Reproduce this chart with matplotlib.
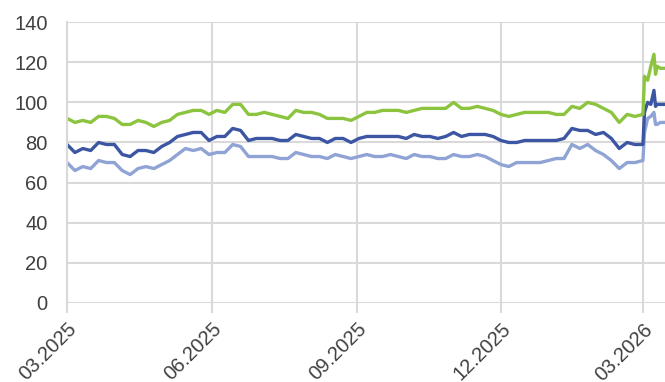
import pandas as pd
import numpy as np
import matplotlib
matplotlib.use("Agg")
import matplotlib.pyplot as plt

# 5-day sampling Mar 2025 - Mar 2026, then the March 2026 spike
dates = list(pd.date_range("2025-03-01", "2026-03-01", freq="5D")) + \
    list(pd.to_datetime(["2026-03-02", "2026-03-04", "2026-03-06", "2026-03-08",
                         "2026-03-09", "2026-03-10", "2026-03-12", "2026-03-14"]))

green = [92, 90, 91, 90, 93, 93, 92, 89, 89, 91, 90, 88, 90, 91, 94, 95, 96, 96, 94, 96,
         95, 99, 99, 94, 94, 95, 94, 93, 92, 96, 95, 95, 94, 92, 92, 92, 91, 93, 95, 95,
         96, 96, 96, 95, 96, 97, 97, 97, 97, 100, 97, 97, 98, 97, 96, 94, 93, 94, 95, 95,
         95, 95, 94, 94, 98, 97, 100, 99, 97, 95, 90, 94, 93, 94,
         113, 111, 118, 124, 114, 118, 117, 117]
dark_blue = [79, 75, 77, 76, 80, 79, 79, 74, 73, 76, 76, 75, 78, 80, 83, 84, 85, 85, 81, 83,
             83, 87, 86, 81, 82, 82, 82, 81, 81, 84, 83, 82, 82, 80, 82, 82, 80, 82, 83, 83,
             83, 83, 83, 82, 84, 83, 83, 82, 83, 85, 83, 84, 84, 84, 83, 81, 80, 80, 81, 81,
             81, 81, 81, 82, 87, 86, 86, 84, 85, 82, 77, 80, 79, 79,
             95, 100, 99, 106, 98, 99, 99, 99]
light_blue = [70, 66, 68, 67, 71, 70, 70, 66, 64, 67, 68, 67, 69, 71, 74, 77, 76, 77, 74, 75,
              75, 79, 78, 73, 73, 73, 73, 72, 72, 75, 74, 73, 73, 72, 74, 73, 72, 73, 74, 73,
              73, 74, 73, 72, 74, 73, 73, 72, 72, 74, 73, 73, 74, 73, 71, 69, 68, 70, 70, 70,
              70, 71, 72, 72, 79, 77, 79, 76, 74, 71, 67, 70, 70, 71,
              85, 92, 93, 95, 89, 89, 90, 90]

tick_dates = pd.to_datetime(["2025-03-01", "2025-06-01", "2025-09-01", "2025-12-01", "2026-03-01"])
tick_labels = ["03.2025", "06.2025", "09.2025", "12.2025", "03.2026"]

plt.rcParams["font.family"] = ["Liberation Sans", "DejaVu Sans"]

fig = plt.figure(figsize=(6.65, 3.82), dpi=100)
ax = fig.add_axes([0.1008, 0.207, 0.8992, 0.735])

ax.plot(dates, light_blue, color="#8FA3D4", linewidth=2.4, solid_joinstyle="round")
ax.plot(dates, dark_blue, color="#3C56A3", linewidth=2.4, solid_joinstyle="round")
ax.plot(dates, green, color="#8CC43F", linewidth=2.4, solid_joinstyle="round")

ax.set_ylim(0, 140)
ax.set_yticks(np.arange(0, 141, 20))
ax.set_xlim(pd.Timestamp("2025-03-01"), pd.Timestamp("2026-03-15"))
ax.set_xticks(tick_dates)
ax.set_xticklabels(tick_labels, rotation=45, ha="right", rotation_mode="anchor")

ax.grid(True, color="#d9d9d9", linewidth=1.5)
ax.set_axisbelow(True)
for s in ["top", "right", "bottom"]:
    ax.spines[s].set_visible(False)
ax.spines["left"].set_color("#d9d9d9")
ax.spines["left"].set_linewidth(1.5)

ax.tick_params(axis="y", length=0, pad=14, labelsize=14.5, labelcolor="#404040")
ax.tick_params(axis="x", length=7, width=1.5, color="#d9d9d9", pad=5,
               labelsize=14.5, labelcolor="#404040")

fig.savefig("out.png", dpi=100)
